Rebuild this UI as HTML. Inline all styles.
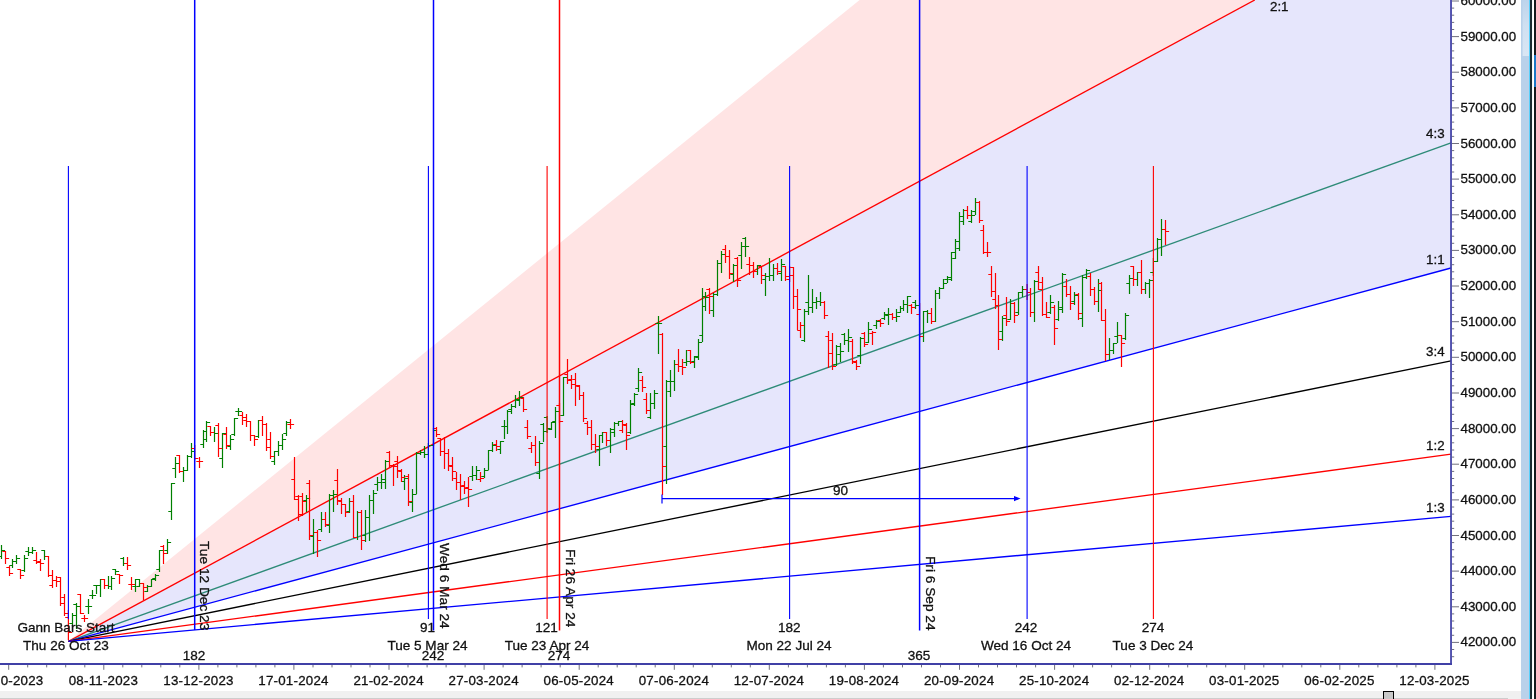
<!DOCTYPE html><html><head><meta charset="utf-8"><title>Gann Chart</title>
<style>
html,body{margin:0;padding:0;background:#fff;overflow:hidden}
body{width:1536px;height:699px;position:relative;font-family:"Liberation Sans",Arial,sans-serif}
svg{position:absolute;left:0;top:0;display:block}
text{font-family:"Liberation Sans",Arial,sans-serif;font-size:13.33px;fill:#111;stroke:#111;stroke-width:0.3px}
.l{fill:none;stroke-width:1.2}.c{shape-rendering:crispEdges;fill:none;stroke-width:1}
.rt{font-size:13.7px}.dt{letter-spacing:0.22px}.bl{font-size:13.55px}.g{stroke:#008000}.r{stroke:#ff0000}
</style></head><body>
<svg width="1536" height="699" viewBox="0 0 1536 699">
<rect x="0" y="0" width="1536" height="699" fill="#ffffff"/>
<polygon points="68.5,641.3 859.6,0 1254.8,0" fill="#ffe4e4"/>
<polygon points="68.5,641.3 1254.8,0 1451.0,0 1451.0,268.0" fill="#e6e6fc"/>
<line class="l" x1="68.5" y1="641.3" x2="1254.8" y2="0.0" stroke="#ff0000" style="stroke-width:1.35"/>
<line class="l" x1="68.5" y1="641.3" x2="1451.0" y2="142.8" stroke="#2e8b78" style="stroke-width:1.35"/>
<line class="l" x1="68.5" y1="641.3" x2="1451.0" y2="268.0" stroke="#0000ff" style="stroke-width:1.35"/>
<line class="l" x1="68.5" y1="641.3" x2="1451.0" y2="360.8" stroke="#000000" style="stroke-width:1.35"/>
<line class="l" x1="68.5" y1="641.3" x2="1451.0" y2="454.2" stroke="#ff0000" style="stroke-width:1.35"/>
<line class="l" x1="68.5" y1="641.3" x2="1451.0" y2="516.4" stroke="#0000ff" style="stroke-width:1.35"/>
<path class="l g" d="M1.5 545V559M-1.7000000000000002 556.5h3.2M1.5 550.5h3.6M12.5 559V568M9.3 565.5h3.2M12.5 561.5h3.6M16.5 555V564M13.3 561.5h3.2M16.5 558.5h3.6M24.5 555V572M21.3 570.5h3.2M24.5 558.5h3.6M28.5 547V556M25.3 551.5h3.2M28.5 552.5h3.6M32.5 547V554M29.3 552.5h3.2M32.5 550.5h3.6M44.5 550V560M41.3 550.5h3.2M44.5 556.5h3.6M72.5 613V626M69.3 623.5h3.2M72.5 615.5h3.6M76.5 603V629M73.3 604.5h3.2M76.5 606.5h3.6M88.5 599V614M85.3 606.5h3.2M88.5 606.5h3.6M92.5 590V599M89.3 595.5h3.2M92.5 595.5h3.6M96.5 585V594M93.3 585.5h3.2M96.5 585.5h3.6M100.5 579V597M97.3 585.5h3.2M100.5 579.5h3.6M108.5 576V589M105.3 585.5h3.2M108.5 586.5h3.6M111.5 576V590M108.3 586.5h3.2M111.5 578.5h3.6M115.5 569V575M112.3 569.5h3.2M115.5 571.5h3.6M123.5 557V566M120.3 558.5h3.2M123.5 563.5h3.6M135.5 579V592M132.3 586.5h3.2M135.5 579.5h3.6M139.5 579V587M136.3 586.5h3.2M139.5 583.5h3.6M147.5 585V592M144.3 591.5h3.2M147.5 586.5h3.6M151.5 579V587M148.3 586.5h3.2M151.5 579.5h3.6M155.5 574V581M152.3 578.5h3.2M155.5 575.5h3.6M159.5 550V572M156.3 569.5h3.2M159.5 550.5h3.6M167.5 539V554M164.3 550.5h3.2M167.5 542.5h3.6M171.5 483V520M168.3 511.5h3.2M171.5 483.5h3.6M175.5 457V478M172.3 468.5h3.2M175.5 463.5h3.6M183.5 467V482M180.3 471.5h3.2M183.5 470.5h3.6M187.5 455V471M184.3 470.5h3.2M187.5 456.5h3.6M191.5 443V458M188.3 456.5h3.2M191.5 451.5h3.6M203.5 430V448M200.3 444.5h3.2M203.5 431.5h3.6M206.5 421V442M203.3 439.5h3.2M206.5 422.5h3.6M214.5 427V442M211.3 432.5h3.2M214.5 433.5h3.6M222.5 433V468M219.3 458.5h3.2M222.5 433.5h3.6M230.5 435V450M227.3 446.5h3.2M230.5 439.5h3.6M234.5 418V436M231.3 434.5h3.2M234.5 418.5h3.6M238.5 408V416M235.3 411.5h3.2M238.5 411.5h3.6M258.5 420V438M255.3 436.5h3.2M258.5 420.5h3.6M274.5 451V465M271.3 461.5h3.2M274.5 451.5h3.6M278.5 441V456M275.3 451.5h3.2M278.5 445.5h3.6M282.5 434V450M279.3 445.5h3.2M282.5 439.5h3.6M286.5 421V436M283.3 433.5h3.2M286.5 422.5h3.6M306.5 495V512M303.3 500.5h3.2M306.5 498.5h3.6M313.5 519V554M310.3 536.5h3.2M313.5 532.5h3.6M321.5 512V532M318.3 529.5h3.2M321.5 519.5h3.6M329.5 494V533M326.3 525.5h3.2M329.5 495.5h3.6M333.5 490V512M330.3 495.5h3.2M333.5 494.5h3.6M349.5 498V513M346.3 511.5h3.2M349.5 501.5h3.6M357.5 511V540M354.3 537.5h3.2M357.5 512.5h3.6M365.5 510V542M362.3 535.5h3.2M365.5 517.5h3.6M369.5 495V541M366.3 517.5h3.2M369.5 500.5h3.6M373.5 490V514M370.3 500.5h3.2M373.5 493.5h3.6M377.5 477V491M374.3 484.5h3.2M377.5 482.5h3.6M381.5 474V489M378.3 482.5h3.2M381.5 479.5h3.6M385.5 460V489M382.3 482.5h3.2M385.5 461.5h3.6M404.5 475V490M401.3 481.5h3.2M404.5 478.5h3.6M412.5 489V512M409.3 502.5h3.2M412.5 494.5h3.6M416.5 452V494M413.3 494.5h3.2M416.5 453.5h3.6M420.5 450V455M417.3 453.5h3.2M420.5 452.5h3.6M424.5 446V458M421.3 452.5h3.2M424.5 454.5h3.6M428.4 443V455M425.2 454.5h3.2M428.4 445.5h3.6M433.5 428V446M430.3 445.5h3.2M433.5 430.5h3.6M472.5 466V481M469.3 476.5h3.2M472.5 475.5h3.6M476.5 466V480M473.3 475.5h3.2M476.5 470.5h3.6M484.5 468V478M481.3 476.5h3.2M484.5 470.5h3.6M488.5 450V470M485.3 470.5h3.2M488.5 450.5h3.6M492.5 442V452M489.3 450.5h3.2M492.5 445.5h3.6M500.5 441V454M497.3 449.5h3.2M500.5 441.5h3.6M504.5 420V439M501.3 426.5h3.2M504.5 426.5h3.6M507.5 410V434M504.3 426.5h3.2M507.5 411.5h3.6M511.5 404V414M508.3 409.5h3.2M511.5 406.5h3.6M515.5 395V408M512.3 406.5h3.2M515.5 399.5h3.6M519.5 391V406M516.3 400.5h3.2M519.5 397.5h3.6M539.5 441V479M536.3 473.5h3.2M539.5 443.5h3.6M543.5 423V442M540.3 424.5h3.2M543.5 431.5h3.6M547.1 416V433M543.9 417.5h3.2M547.1 428.5h3.6M551.5 422V430M548.3 429.5h3.2M551.5 422.5h3.6M555.5 407V438M552.3 421.5h3.2M555.5 411.5h3.6M563.5 377V416M560.3 415.5h3.2M563.5 377.5h3.6M599.5 435V466M596.3 449.5h3.2M599.5 435.5h3.6M602.5 432V443M599.3 435.5h3.2M602.5 432.5h3.6M610.5 428V453M607.3 440.5h3.2M610.5 429.5h3.6M614.5 422V437M611.3 432.5h3.2M614.5 423.5h3.6M618.5 421V426M615.3 423.5h3.2M618.5 421.5h3.6M630.5 400V434M627.3 432.5h3.2M630.5 404.5h3.6M634.5 393V406M631.3 403.5h3.2M634.5 394.5h3.6M638.5 368V392M635.3 388.5h3.2M638.5 372.5h3.6M650.5 393V419M647.3 417.5h3.2M650.5 403.5h3.6M654.5 390V409M651.3 403.5h3.2M654.5 393.5h3.6M658.5 316V354M655.3 323.5h3.2M658.5 323.5h3.6M666.5 380V484M663.3 446.5h3.2M666.5 381.5h3.6M670.5 370V397M667.3 391.5h3.2M670.5 381.5h3.6M674.5 360V391M671.3 381.5h3.2M674.5 364.5h3.6M686.5 350V366M683.3 362.5h3.2M686.5 361.5h3.6M694.5 356V368M691.3 361.5h3.2M694.5 356.5h3.6M698.5 339V360M695.3 357.5h3.2M698.5 342.5h3.6M702.5 288V342M699.3 335.5h3.2M702.5 296.5h3.6M705.5 292V311M702.3 306.5h3.2M705.5 297.5h3.6M713.5 293V317M710.3 310.5h3.2M713.5 294.5h3.6M717.5 260V296M714.3 294.5h3.2M717.5 263.5h3.6M721.5 251V273M718.3 263.5h3.2M721.5 254.5h3.6M733.5 264V282M730.3 274.5h3.2M733.5 265.5h3.6M741.5 242V269M738.3 255.5h3.2M741.5 246.5h3.6M745.5 237V257M742.3 238.5h3.2M745.5 246.5h3.6M757.5 265V275M754.3 271.5h3.2M757.5 265.5h3.6M765.5 273V296M762.3 279.5h3.2M765.5 276.5h3.6M769.5 258V281M766.3 276.5h3.2M769.5 275.5h3.6M773.5 264V281M770.3 275.5h3.2M773.5 268.5h3.6M781.5 259V281M778.3 273.5h3.2M781.5 264.5h3.6M804.5 309V342M801.3 340.5h3.2M804.5 311.5h3.6M808.5 275V315M805.3 302.5h3.2M808.5 307.5h3.6M812.5 289V313M809.3 307.5h3.2M812.5 302.5h3.6M816.5 297V309M813.3 302.5h3.2M816.5 301.5h3.6M820.5 292V306M817.3 301.5h3.2M820.5 302.5h3.6M836.5 345V366M833.3 364.5h3.2M836.5 346.5h3.6M840.5 343V362M837.3 354.5h3.2M840.5 351.5h3.6M844.5 333V345M841.3 334.5h3.2M844.5 340.5h3.6M848.5 329V352M845.3 340.5h3.2M848.5 337.5h3.6M860.5 337V364M857.3 355.5h3.2M860.5 338.5h3.6M868.5 322V343M865.3 342.5h3.2M868.5 329.5h3.6M876.5 320V329M873.3 325.5h3.2M876.5 321.5h3.6M884.5 312V320M881.3 318.5h3.2M884.5 314.5h3.6M888.5 308V325M885.3 315.5h3.2M888.5 314.5h3.6M896.5 309V322M893.3 317.5h3.2M896.5 316.5h3.6M900.5 306V313M897.3 312.5h3.2M900.5 308.5h3.6M903.5 300V311M900.3 308.5h3.2M903.5 304.5h3.6M907.5 296V313M904.3 304.5h3.2M907.5 296.5h3.6M915.5 300V309M912.3 302.5h3.2M915.5 305.5h3.6M923.5 311V342M920.3 336.5h3.2M923.5 311.5h3.6M927.5 310V323M924.3 311.5h3.2M927.5 313.5h3.6M935.5 290V322M932.3 321.5h3.2M935.5 293.5h3.6M939.5 287V299M936.3 293.5h3.2M939.5 288.5h3.6M943.5 279V289M940.3 288.5h3.2M943.5 283.5h3.6M947.5 276V283M944.3 279.5h3.2M947.5 277.5h3.6M951.5 252V281M948.3 279.5h3.2M951.5 252.5h3.6M955.5 239V259M952.3 258.5h3.2M955.5 241.5h3.6M959.5 212V251M956.3 248.5h3.2M959.5 216.5h3.6M963.5 209V225M960.3 221.5h3.2M963.5 210.5h3.6M971.5 210V223M968.3 221.5h3.2M971.5 215.5h3.6M975.5 198V215M972.3 211.5h3.2M975.5 202.5h3.6M1002.5 316V341M999.3 331.5h3.2M1002.5 318.5h3.6M1010.5 299V320M1007.3 319.5h3.2M1010.5 303.5h3.6M1018.5 292V315M1015.3 312.5h3.2M1018.5 292.5h3.6M1022.5 286V297M1019.3 292.5h3.2M1022.5 289.5h3.6M1034.5 280V322M1031.3 312.5h3.2M1034.5 281.5h3.6M1050.5 295V314M1047.3 312.5h3.2M1050.5 302.5h3.6M1058.5 301V321M1055.3 319.5h3.2M1058.5 309.5h3.6M1062.5 273V313M1059.3 307.5h3.2M1062.5 274.5h3.6M1074.5 292V305M1071.3 301.5h3.2M1074.5 295.5h3.6M1082.5 275V327M1079.3 318.5h3.2M1082.5 277.5h3.6M1086.5 269V279M1083.3 277.5h3.2M1086.5 270.5h3.6M1098.5 279V312M1095.3 301.5h3.2M1098.5 290.5h3.6M1109.5 338V360M1106.3 354.5h3.2M1109.5 350.5h3.6M1113.5 343V354M1110.3 350.5h3.2M1113.5 343.5h3.6M1117.5 322V343M1114.3 336.5h3.2M1117.5 335.5h3.6M1125.5 313V340M1122.3 338.5h3.2M1125.5 315.5h3.6M1129.5 275V294M1126.3 283.5h3.2M1129.5 278.5h3.6M1137.5 272V286M1134.3 279.5h3.2M1137.5 272.5h3.6M1145.5 282V294M1142.3 289.5h3.2M1145.5 283.5h3.6M1149.5 279V298M1146.3 283.5h3.2M1149.5 280.5h3.6M1153.4 258V276M1150.2 272.5h3.2M1153.4 261.5h3.6M1157.5 238V262M1154.3 261.5h3.2M1157.5 239.5h3.6M1161.5 219V256M1158.3 239.5h3.2M1161.5 229.5h3.6"/><path class="l r" d="M5.5 551V564M2.3 551.5h3.2M5.5 558.5h3.6M9.5 566V576M6.3 567.5h3.2M9.5 573.5h3.6M20.5 569V579M17.3 569.5h3.2M20.5 575.5h3.6M36.5 552V564M33.3 560.5h3.2M36.5 562.5h3.6M40.5 559V571M37.3 561.5h3.2M40.5 563.5h3.6M48.5 556V577M45.3 556.5h3.2M48.5 575.5h3.6M52.5 570V588M49.3 585.5h3.2M52.5 580.5h3.6M56.5 576V587M53.3 580.5h3.2M56.5 581.5h3.6M60.5 577V606M57.3 577.5h3.2M60.5 603.5h3.6M64.5 594V616M61.3 597.5h3.2M64.5 613.5h3.6M68.4 610V640M65.2 617.5h3.2M68.4 632.5h3.6M80.5 594V614M77.3 594.5h3.2M80.5 613.5h3.6M84.5 615V622M81.3 618.5h3.2M84.5 618.5h3.6M104.5 579V589M101.3 579.5h3.2M104.5 585.5h3.6M119.5 574V584M116.3 574.5h3.2M119.5 575.5h3.6M127.5 557V570M124.3 563.5h3.2M127.5 565.5h3.6M131.5 577V590M128.3 584.5h3.2M131.5 584.5h3.6M143.5 583V600M140.3 583.5h3.2M143.5 587.5h3.6M163.5 545V564M160.3 546.5h3.2M163.5 553.5h3.6M179.5 455V473M176.3 455.5h3.2M179.5 471.5h3.6M194.7 445V460M191.5 448.5h3.2M194.7 458.5h3.6M199.5 457V468M196.3 461.5h3.2M199.5 461.5h3.6M210.5 426V436M207.3 426.5h3.2M210.5 432.5h3.6M218.5 423V457M215.3 425.5h3.2M218.5 448.5h3.6M226.5 427V449M223.3 434.5h3.2M226.5 445.5h3.6M242.5 412V425M239.3 415.5h3.2M242.5 417.5h3.6M246.5 414V427M243.3 420.5h3.2M246.5 421.5h3.6M250.5 421V441M247.3 421.5h3.2M250.5 435.5h3.6M254.5 435V446M251.3 435.5h3.2M254.5 439.5h3.6M262.5 416V436M259.3 420.5h3.2M262.5 424.5h3.6M266.5 423V451M263.3 424.5h3.2M266.5 447.5h3.6M270.5 432V459M267.3 439.5h3.2M270.5 456.5h3.6M290.5 419V429M287.3 424.5h3.2M290.5 424.5h3.6M294.5 457V500M291.3 479.5h3.2M294.5 499.5h3.6M298.5 495V521M295.3 496.5h3.2M298.5 514.5h3.6M302.5 493V516M299.3 496.5h3.2M302.5 501.5h3.6M309.5 480V540M306.3 483.5h3.2M309.5 535.5h3.6M317.5 530V557M314.3 532.5h3.2M317.5 540.5h3.6M325.5 512V527M322.3 519.5h3.2M325.5 524.5h3.6M337.5 469V505M334.3 480.5h3.2M337.5 500.5h3.6M341.5 498V514M338.3 501.5h3.2M341.5 504.5h3.6M345.5 504V517M342.3 504.5h3.2M345.5 512.5h3.6M353.5 495V538M350.3 501.5h3.2M353.5 537.5h3.6M361.5 510V550M358.3 512.5h3.2M361.5 540.5h3.6M389.5 451V468M386.3 452.5h3.2M389.5 465.5h3.6M393.5 464V486M390.3 465.5h3.2M393.5 466.5h3.6M397.5 456V478M394.3 461.5h3.2M397.5 470.5h3.6M401.5 469V482M398.3 471.5h3.2M401.5 477.5h3.6M408.5 474V506M405.3 476.5h3.2M408.5 501.5h3.6M436.5 427V437M433.3 428.5h3.2M436.5 434.5h3.6M440.5 438V456M437.3 438.5h3.2M440.5 451.5h3.6M444.5 437V469M441.3 451.5h3.2M444.5 453.5h3.6M448.5 449V471M445.3 453.5h3.2M448.5 465.5h3.6M452.5 457V481M449.3 466.5h3.2M452.5 471.5h3.6M456.5 472V490M453.3 478.5h3.2M456.5 482.5h3.6M460.5 474V500M457.3 482.5h3.2M460.5 486.5h3.6M464.5 481V494M461.3 485.5h3.2M464.5 488.5h3.6M468.5 477V507M465.3 487.5h3.2M468.5 489.5h3.6M480.5 472V482M477.3 479.5h3.2M480.5 478.5h3.6M496.5 440V451M493.3 444.5h3.2M496.5 446.5h3.6M523.5 397V412M520.3 398.5h3.2M523.5 409.5h3.6M527.5 420V439M524.3 427.5h3.2M527.5 436.5h3.6M531.5 442V453M528.3 448.5h3.2M531.5 445.5h3.6M535.5 436V466M532.3 445.5h3.2M535.5 462.5h3.6M559.5 403V423M556.3 405.5h3.2M559.5 421.5h3.6M567.5 359V384M564.3 374.5h3.2M567.5 380.5h3.6M571.5 375V389M568.3 379.5h3.2M571.5 384.5h3.6M575.5 373V406M572.3 379.5h3.2M575.5 385.5h3.6M579.5 385V400M576.3 386.5h3.2M579.5 395.5h3.6M583.5 392V422M580.3 395.5h3.2M583.5 418.5h3.6M587.5 421V435M584.3 423.5h3.2M587.5 427.5h3.6M591.5 420V450M588.3 427.5h3.2M591.5 444.5h3.6M595.5 434V453M592.3 444.5h3.2M595.5 446.5h3.6M606.5 432V446M603.3 432.5h3.2M606.5 440.5h3.6M622.5 420V433M619.3 430.5h3.2M622.5 424.5h3.6M626.5 423V450M623.3 425.5h3.2M626.5 435.5h3.6M642.5 376V392M639.3 380.5h3.2M642.5 387.5h3.6M646.5 393V414M643.3 399.5h3.2M646.5 410.5h3.6M662.5 333V495M659.3 334.5h3.2M662.5 466.5h3.6M678.5 349V372M675.3 364.5h3.2M678.5 366.5h3.6M682.5 359V375M679.3 366.5h3.2M682.5 367.5h3.6M690.5 350V364M687.3 350.5h3.2M690.5 362.5h3.6M709.5 288V314M706.3 289.5h3.2M709.5 296.5h3.6M725.5 245V263M722.3 249.5h3.2M725.5 256.5h3.6M729.5 250V279M726.3 256.5h3.2M729.5 273.5h3.6M737.5 257V287M734.3 258.5h3.2M737.5 280.5h3.6M749.5 257V275M746.3 264.5h3.2M749.5 265.5h3.6M753.5 262V278M750.3 265.5h3.2M753.5 271.5h3.6M761.5 266V284M758.3 266.5h3.2M761.5 275.5h3.6M777.5 263V275M774.3 268.5h3.2M777.5 271.5h3.6M785.5 266V281M782.3 266.5h3.2M785.5 276.5h3.6M789.6 266V282M786.4 279.5h3.2M789.6 275.5h3.6M793.5 267V309M790.3 267.5h3.2M793.5 296.5h3.6M797.5 289V330M794.3 296.5h3.2M797.5 309.5h3.6M800.5 322V338M797.3 330.5h3.2M800.5 325.5h3.6M824.5 301V319M821.3 302.5h3.2M824.5 315.5h3.6M828.5 331V368M825.3 336.5h3.2M828.5 353.5h3.6M832.5 333V370M829.3 340.5h3.2M832.5 366.5h3.6M852.5 339V364M849.3 341.5h3.2M852.5 361.5h3.6M856.5 360V370M853.3 362.5h3.2M856.5 366.5h3.6M864.5 332V347M861.3 333.5h3.2M864.5 344.5h3.6M872.5 331V345M869.3 333.5h3.2M872.5 332.5h3.6M880.5 319V327M877.3 320.5h3.2M880.5 323.5h3.6M892.5 313V320M889.3 314.5h3.2M892.5 317.5h3.6M911.5 304V314M908.3 305.5h3.2M911.5 307.5h3.6M919.6 303V338M916.4 314.5h3.2M919.6 336.5h3.6M931.5 308V324M928.3 313.5h3.2M931.5 321.5h3.6M967.5 206V219M964.3 210.5h3.2M967.5 215.5h3.6M979.5 201V223M976.3 202.5h3.2M979.5 220.5h3.6M983.5 225V254M980.3 230.5h3.2M983.5 252.5h3.6M987.5 242V257M984.3 252.5h3.2M987.5 252.5h3.6M991.5 266V297M988.3 274.5h3.2M991.5 291.5h3.6M995.5 273V309M992.3 299.5h3.2M995.5 305.5h3.6M998.5 295V350M995.3 305.5h3.2M998.5 339.5h3.6M1006.5 297V326M1003.3 315.5h3.2M1006.5 321.5h3.6M1014.5 302V323M1011.3 303.5h3.2M1014.5 315.5h3.6M1027.1 284V300M1023.8999999999999 289.5h3.2M1027.1 292.5h3.6M1030.5 288V317M1027.3 292.5h3.2M1030.5 312.5h3.6M1038.5 266V290M1035.3 272.5h3.2M1038.5 289.5h3.6M1042.5 277V316M1039.3 282.5h3.2M1042.5 314.5h3.6M1046.5 302V318M1043.3 314.5h3.2M1046.5 317.5h3.6M1054.5 305V345M1051.3 307.5h3.2M1054.5 328.5h3.6M1066.5 279V297M1063.3 286.5h3.2M1066.5 294.5h3.6M1070.5 286V310M1067.3 294.5h3.2M1070.5 303.5h3.6M1078.5 293V320M1075.3 294.5h3.2M1078.5 313.5h3.6M1090.5 273V296M1087.3 276.5h3.2M1090.5 289.5h3.6M1094.5 287V305M1091.3 289.5h3.2M1094.5 301.5h3.6M1101.5 282V321M1098.3 283.5h3.2M1101.5 320.5h3.6M1105.5 309V361M1102.3 320.5h3.2M1105.5 354.5h3.6M1121.5 335V367M1118.3 335.5h3.2M1121.5 343.5h3.6M1133.5 266V286M1130.3 266.5h3.2M1133.5 279.5h3.6M1141.5 260V294M1138.3 272.5h3.2M1141.5 289.5h3.6M1165.5 220V245M1162.3 229.5h3.2M1165.5 231.5h3.6"/>
<line class="l" x1="68.4" y1="166" x2="68.4" y2="619" stroke="#0000ff" style="stroke-width:1.1"/>
<line class="l" x1="194.7" y1="0" x2="194.7" y2="630" stroke="#0000ff" style="stroke-width:1.5"/>
<line class="l" x1="428.4" y1="166" x2="428.4" y2="619" stroke="#0000ff" style="stroke-width:1.1"/>
<line class="l" x1="433.5" y1="0" x2="433.5" y2="630.5" stroke="#0000ff" style="stroke-width:1.5"/>
<line class="l" x1="547.1" y1="166" x2="547.1" y2="619" stroke="#ff0000" style="stroke-width:1.1"/>
<line class="l" x1="559.5" y1="0" x2="559.5" y2="630.5" stroke="#ff0000" style="stroke-width:1.5"/>
<line class="l" x1="789.6" y1="166" x2="789.6" y2="619" stroke="#0000ff" style="stroke-width:1.1"/>
<line class="l" x1="919.6" y1="0" x2="919.6" y2="630.5" stroke="#0000ff" style="stroke-width:1.5"/>
<line class="l" x1="1027.1" y1="166" x2="1027.1" y2="619" stroke="#0000ff" style="stroke-width:1.1"/>
<line class="l" x1="1153.4" y1="166" x2="1153.4" y2="619" stroke="#ff0000" style="stroke-width:1.1"/>
<path class="l" d="M662 494.5V503.5M662 498.6H1018" stroke="#0000ff"/>
<path d="M1020.5 498.6l-6.5-2.6v5.2z" fill="#0000ff"/>
<rect x="1450.15" y="0" width="1.75" height="665" fill="#4040a6"/>
<rect x="0" y="663" width="1451.9" height="2" fill="#4040a6"/>
<path class="l" d="M1452 656.7h2.2M1452 649.5h2.2M1452 642.4h7M1452 635.3h2.2M1452 628.1h2.2M1452 621.0h2.2M1452 613.9h2.2M1452 606.8h7M1452 599.6h2.2M1452 592.5h2.2M1452 585.4h2.2M1452 578.3h2.2M1452 571.1h7M1452 564.0h2.2M1452 556.9h2.2M1452 549.7h2.2M1452 542.6h2.2M1452 535.5h7M1452 528.4h2.2M1452 521.2h2.2M1452 514.1h2.2M1452 507.0h2.2M1452 499.9h7M1452 492.7h2.2M1452 485.6h2.2M1452 478.5h2.2M1452 471.4h2.2M1452 464.2h7M1452 457.1h2.2M1452 450.0h2.2M1452 442.8h2.2M1452 435.7h2.2M1452 428.6h7M1452 421.5h2.2M1452 414.3h2.2M1452 407.2h2.2M1452 400.1h2.2M1452 393.0h7M1452 385.8h2.2M1452 378.7h2.2M1452 371.6h2.2M1452 364.4h2.2M1452 357.3h7M1452 350.2h2.2M1452 343.1h2.2M1452 335.9h2.2M1452 328.8h2.2M1452 321.7h7M1452 314.6h2.2M1452 307.4h2.2M1452 300.3h2.2M1452 293.2h2.2M1452 286.0h7M1452 278.9h2.2M1452 271.8h2.2M1452 264.7h2.2M1452 257.5h2.2M1452 250.4h7M1452 243.3h2.2M1452 236.2h2.2M1452 229.0h2.2M1452 221.9h2.2M1452 214.8h7M1452 207.7h2.2M1452 200.5h2.2M1452 193.4h2.2M1452 186.3h2.2M1452 179.1h7M1452 172.0h2.2M1452 164.9h2.2M1452 157.8h2.2M1452 150.6h2.2M1452 143.5h7M1452 136.4h2.2M1452 129.3h2.2M1452 122.1h2.2M1452 115.0h2.2M1452 107.9h7M1452 100.7h2.2M1452 93.6h2.2M1452 86.5h2.2M1452 79.4h2.2M1452 72.2h7M1452 65.1h2.2M1452 58.0h2.2M1452 50.9h2.2M1452 43.7h2.2M1452 36.6h7M1452 29.5h2.2M1452 22.4h2.2M1452 15.2h2.2M1452 8.1h2.2M1452 1.0h7" stroke="#70707c" style="stroke-width:1"/>
<text x="1460.5" y="646.4">42000.00</text>
<text x="1460.5" y="610.8">43000.00</text>
<text x="1460.5" y="575.1">44000.00</text>
<text x="1460.5" y="539.5">45000.00</text>
<text x="1460.5" y="503.9">46000.00</text>
<text x="1460.5" y="468.2">47000.00</text>
<text x="1460.5" y="432.6">48000.00</text>
<text x="1460.5" y="397.0">49000.00</text>
<text x="1460.5" y="361.3">50000.00</text>
<text x="1460.5" y="325.7">51000.00</text>
<text x="1460.5" y="290.0">52000.00</text>
<text x="1460.5" y="254.4">53000.00</text>
<text x="1460.5" y="218.8">54000.00</text>
<text x="1460.5" y="183.1">55000.00</text>
<text x="1460.5" y="147.5">56000.00</text>
<text x="1460.5" y="111.9">57000.00</text>
<text x="1460.5" y="76.2">58000.00</text>
<text x="1460.5" y="40.6">59000.00</text>
<text x="1460.5" y="5.0">60000.00</text>
<path class="l" d="M8.7 665v4.8M27.7 665v2.4M46.7 665v2.4M65.7 665v2.4M84.8 665v2.4M103.8 665v4.8M122.8 665v2.4M141.8 665v2.4M160.8 665v2.4M179.8 665v2.4M198.9 665v4.8M217.9 665v2.4M236.9 665v2.4M255.9 665v2.4M274.9 665v2.4M293.9 665v4.8M313.0 665v2.4M332.0 665v2.4M351.0 665v2.4M370.0 665v2.4M389.0 665v4.8M408.0 665v2.4M427.1 665v2.4M446.1 665v2.4M465.1 665v2.4M484.1 665v4.8M503.1 665v2.4M522.1 665v2.4M541.1 665v2.4M560.2 665v2.4M579.2 665v4.8M598.2 665v2.4M617.2 665v2.4M636.2 665v2.4M655.2 665v2.4M674.3 665v4.8M693.3 665v2.4M712.3 665v2.4M731.3 665v2.4M750.3 665v2.4M769.3 665v4.8M788.4 665v2.4M807.4 665v2.4M826.4 665v2.4M845.4 665v2.4M864.4 665v4.8M883.4 665v2.4M902.5 665v2.4M921.5 665v2.4M940.5 665v2.4M959.5 665v4.8M978.5 665v2.4M997.5 665v2.4M1016.5 665v2.4M1035.6 665v2.4M1054.6 665v4.8M1073.6 665v2.4M1092.6 665v2.4M1111.6 665v2.4M1130.6 665v2.4M1149.7 665v4.8M1168.7 665v2.4M1187.7 665v2.4M1206.7 665v2.4M1225.7 665v2.4M1244.7 665v4.8M1263.8 665v2.4M1282.8 665v2.4M1301.8 665v2.4M1320.8 665v2.4M1339.8 665v4.8M1358.8 665v2.4M1377.9 665v2.4M1396.9 665v2.4M1415.9 665v2.4M1434.9 665v4.8" stroke="#70707c" style="stroke-width:1"/>
<text class="dt" x="8.3" y="685" text-anchor="middle">04-10-2023</text>
<text class="dt" x="103.4" y="685" text-anchor="middle">08-11-2023</text>
<text class="dt" x="198.5" y="685" text-anchor="middle">13-12-2023</text>
<text class="dt" x="293.5" y="685" text-anchor="middle">17-01-2024</text>
<text class="dt" x="388.6" y="685" text-anchor="middle">21-02-2024</text>
<text class="dt" x="483.7" y="685" text-anchor="middle">27-03-2024</text>
<text class="dt" x="578.8" y="685" text-anchor="middle">06-05-2024</text>
<text class="dt" x="673.9" y="685" text-anchor="middle">07-06-2024</text>
<text class="dt" x="768.9" y="685" text-anchor="middle">12-07-2024</text>
<text class="dt" x="864.0" y="685" text-anchor="middle">19-08-2024</text>
<text class="dt" x="959.1" y="685" text-anchor="middle">20-09-2024</text>
<text class="dt" x="1054.2" y="685" text-anchor="middle">25-10-2024</text>
<text class="dt" x="1149.3" y="685" text-anchor="middle">02-12-2024</text>
<text class="dt" x="1244.3" y="685" text-anchor="middle">03-01-2025</text>
<text class="dt" x="1339.4" y="685" text-anchor="middle">06-02-2025</text>
<text class="dt" x="1434.5" y="685" text-anchor="middle">12-03-2025</text>
<text x="1444.6" y="138.4" text-anchor="end">4:3</text>
<text x="1444.6" y="263.6" text-anchor="end">1:1</text>
<text x="1444.6" y="356.4" text-anchor="end">3:4</text>
<text x="1444.6" y="449.8" text-anchor="end">1:2</text>
<text x="1444.6" y="512.0" text-anchor="end">1:3</text>
<text x="1270" y="11">2:1</text>
<text class="bl" x="66" y="632" text-anchor="middle">Gann Bars Start</text>
<text class="bl" x="66" y="650" text-anchor="middle">Thu 26 Oct 23</text>
<text class="bl" x="194" y="660" text-anchor="middle">182</text>
<text class="bl" x="427.5" y="632" text-anchor="middle">91</text>
<text class="bl" x="427.5" y="649.5" text-anchor="middle">Tue 5 Mar 24</text>
<text class="bl" x="433" y="660" text-anchor="middle">242</text>
<text class="bl" x="546.5" y="632" text-anchor="middle">121</text>
<text class="bl" x="547" y="649.5" text-anchor="middle">Tue 23 Apr 24</text>
<text class="bl" x="559" y="660" text-anchor="middle">274</text>
<text class="bl" x="789.3" y="632" text-anchor="middle">182</text>
<text class="bl" x="789" y="649.5" text-anchor="middle">Mon 22 Jul 24</text>
<text class="bl" x="919" y="660" text-anchor="middle">365</text>
<text class="bl" x="1026" y="632" text-anchor="middle">242</text>
<text class="bl" x="1026" y="649.5" text-anchor="middle">Wed 16 Oct 24</text>
<text class="bl" x="1153" y="632" text-anchor="middle">274</text>
<text class="bl" x="1153" y="649.5" text-anchor="middle">Tue 3 Dec 24</text>
<text class="bl" x="840.5" y="495" text-anchor="middle">90</text>
<text class="rt" transform="translate(200.3,541) rotate(90)">Tue 12 Dec 23</text>
<text class="rt" transform="translate(439.8,543) rotate(90)">Wed 6 Mar 24</text>
<text class="rt" transform="translate(566.3,549) rotate(90)">Fri 26 Apr 24</text>
<text class="rt" transform="translate(926.3,556) rotate(90)">Fri 6 Sep 24</text>
<rect x="0" y="691" width="1521" height="8" fill="#f0f0f0"/>
<rect x="0" y="698" width="1508" height="1" fill="#cdcdcd"/>
<rect x="1383.5" y="691.5" width="10" height="8" fill="#c8c8c8" stroke="#000" stroke-width="1"/>
<rect x="1521" y="0" width="8.5" height="699" fill="#b9d1ea"/>
<defs><linearGradient id="sg" x1="0" y1="0" x2="0" y2="1"><stop offset="0" stop-color="#bcd3eb"/><stop offset="0.45" stop-color="#cfe0f1"/><stop offset="1" stop-color="#d9e6f4"/></linearGradient></defs>
<rect x="1522.6" y="0" width="6.4" height="56" fill="url(#sg)"/>
<rect x="1529" y="0" width="1.2" height="699" fill="#5bd0fb"/>
<rect x="1530" y="0" width="2.2" height="699" fill="#1c2a30"/>
<rect x="1532.2" y="0" width="1.8" height="699" fill="#ffffff"/>
<rect x="1534" y="0" width="2" height="699" fill="#15191c"/>
<rect x="1534" y="55" width="2" height="32" fill="#1c78c8"/>
</svg></body></html>
